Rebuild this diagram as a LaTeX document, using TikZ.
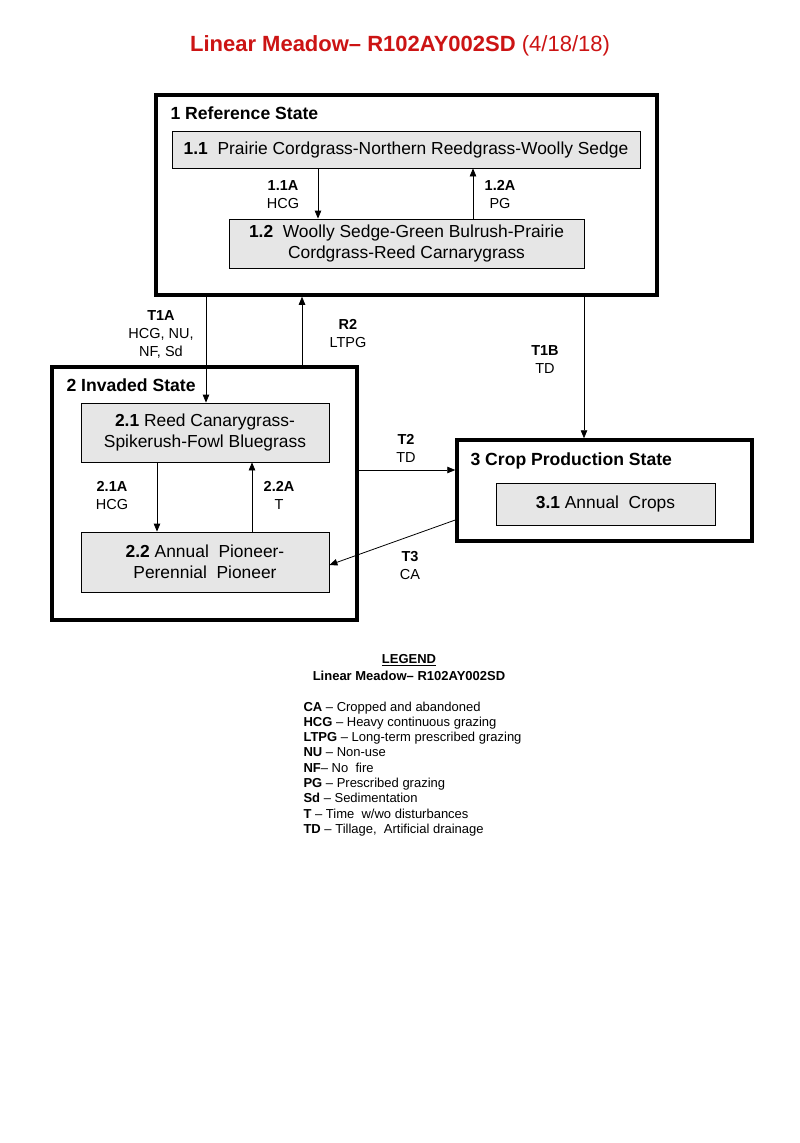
\documentclass[tikz,border=0pt]{standalone}
\usepackage{fontspec}
\setmainfont{Liberation Sans}
\usetikzlibrary{arrows.meta}
\definecolor{titlered}{RGB}{204,20,20}
\definecolor{boxgrey}{RGB}{230,230,230}
\tikzset{
  statebox/.style={draw, line width=3.5pt, minimum width=#1},
  phasebox/.style={draw, line width=0.8pt, fill=boxgrey, align=center, font=\fontsize{17.4}{21}\selectfont},
  statetitle/.style={anchor=base west, font=\bfseries\fontsize{17.6}{21}\selectfont},
  trlabel/.style={align=center, font=\fontsize{14.5}{18}\selectfont},
  arr/.style={-{Triangle[length=8pt,width=6.5pt]}, line width=0.8pt},
  legline/.style={anchor=base west, font=\fontsize{13}{15}\selectfont}
}
\begin{document}
\begin{tikzpicture}[x=1pt, y=-1pt]
\useasboundingbox (0,0) rectangle (800,1143);
\fill[white] (0,0) rectangle (800,1143);

% title
\node (title) at (400,46) {\fontsize{22}{26}\selectfont\color{titlered}\textbf{Linear Meadow-- R102AY002SD} (4/18/18)};

% state boxes
\node[statebox=501pt, minimum height=200pt] (st1) at (406.5,195) {};
\node[statebox=305pt, minimum height=253pt] (st2) at (204.5,493.5) {};
\node[statebox=295pt, minimum height=101pt] (st3) at (604.5,490.5) {};

\node[statetitle] (t1) at (167,119.5) {1 Reference State};
\node[statetitle] (t2) at (63,391.5) {2 Invaded State};
\node[statetitle] (t3) at (467,465.5) {3 Crop Production State};

% community phases
\node[phasebox, minimum width=468pt, minimum height=37pt] (s11) at (406,149.5) {\textbf{1.1}\ \ Prairie Cordgrass-Northern Reedgrass-Woolly Sedge};
\node[phasebox, minimum width=355pt, minimum height=49pt] (s12) at (406.5,243.5) {\textbf{1.2}\ \ Woolly Sedge-Green Bulrush-Prairie\\Cordgrass-Reed Carnarygrass};
\node[phasebox, minimum width=248pt, minimum height=59pt] (s21) at (205,432.5) {\textbf{2.1} Reed Canarygrass-\\Spikerush-Fowl Bluegrass};
\node[phasebox, minimum width=248pt, minimum height=60pt] (s22) at (205,562) {\textbf{2.2} Annual\ \ Pioneer-\\Perennial\ \ Pioneer};
\node[phasebox, minimum width=219pt, minimum height=42pt] (s31) at (605.5,504) {\textbf{3.1} Annual\ \ Crops};

% pathways
\draw[arr] ([xshift=-88pt]s11.south) -- ([xshift=-88pt]s11.south |- s12.north);
\draw[arr] ([xshift=66.5pt]s12.north) -- ([xshift=66.5pt]s12.north |- s11.south);
\draw[arr] ([xshift=-48pt]s21.south) -- ([xshift=-48pt]s21.south |- s22.north);
\draw[arr] ([xshift=47pt]s22.north) -- ([xshift=47pt]s22.north |- s21.south);

% transitions
\draw[arr] ([xshift=-200.5pt]st1.south) -- ([xshift=-200.5pt]st1.south |- s21.north);
\draw[arr] ([xshift=97.5pt]st2.north) -- ([xshift=97.5pt]st2.north |- st1.south);
\draw[arr] ([xshift=177.5pt]st1.south) -- ([xshift=177.5pt]st1.south |- st3.north);
\draw[arr] ([yshift=23.5pt]st2.east) -- ([yshift=23.5pt]st2.east -| st3.west);
\draw[arr] ([yshift=-29.5pt]st3.west) -- ([yshift=-3pt]s22.east);

% labels
\node[trlabel] (l11a) at (283,194.5) {\textbf{1.1A}\\HCG};
\node[trlabel] (l12a) at (500,194.5) {\textbf{1.2A}\\PG};
\node[trlabel] (l21a) at (112,495.5) {\textbf{2.1A}\\HCG};
\node[trlabel] (l22a) at (279,495.5) {\textbf{2.2A}\\T};
\node[trlabel] (lt1a) at (161,334) {\textbf{T1A}\\HCG, NU,\\NF, Sd};
\node[trlabel] (lr2) at (348,333.5) {\textbf{R2}\\LTPG};
\node[trlabel] (lt1b) at (545,360) {\textbf{T1B}\\TD};
\node[trlabel] (lt2) at (406,448.5) {\textbf{T2}\\TD};
\node[trlabel] (lt3) at (410,566) {\textbf{T3}\\CA};

% legend
\node[font=\bfseries\fontsize{13}{15}\selectfont] (leg) at (409,660) {\underline{LEGEND}};
\node[font=\bfseries\fontsize{13}{15}\selectfont] (legsub) at (409,675.5) {Linear Meadow-- R102AY002SD};
\foreach \ab/\txt [count=\i] in {CA/{ -- Cropped and abandoned}, HCG/{ -- Heavy continuous grazing},
  LTPG/{ -- Long-term prescribed grazing}, NU/{ -- Non-use}, NF/{-- No\ \ fire}, PG/{ -- Prescribed grazing},
  Sd/{ -- Sedimentation}, T/{ -- Time\ \ w/wo disturbances}, TD/{ -- Tillage,\ \ Artificial drainage}}
  \node[legline] (leg\i) at (300,{711+(\i-1)*15.3}) {\textbf{\ab}\txt};
\end{tikzpicture}
\end{document}
